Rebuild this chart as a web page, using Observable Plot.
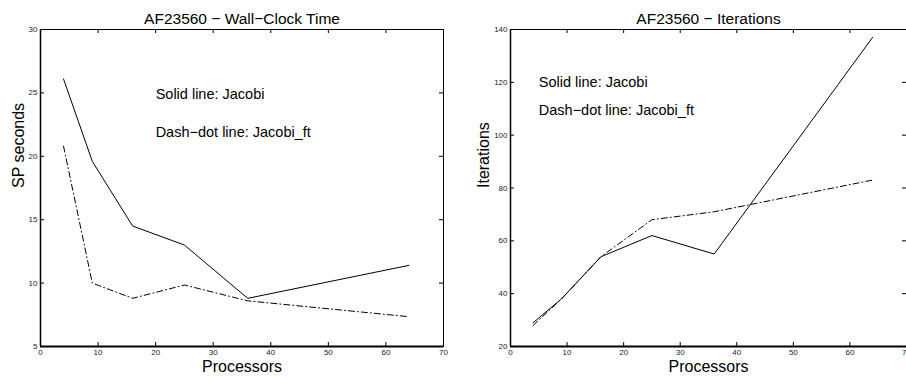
<!DOCTYPE html>
<html>
<head>
<meta charset="utf-8">
<script src="https://cdn.jsdelivr.net/npm/d3@7"></script>
<script src="https://cdn.jsdelivr.net/npm/@observablehq/plot@0.6"></script>
<style>
  body { margin: 0; background: #fff; }
  #wrap { display: flex; width: 906px; height: 379px; overflow: hidden; font-family: "Liberation Sans", Arial, sans-serif; }
  svg { font-family: "Liberation Sans", Arial, sans-serif; overflow: visible; }
</style>
</head>
<body>
<div id="wrap"></div>
<script>
// ---- data ----
const processors = [4, 9, 16, 25, 36, 64];
const timeJacobi = [26.1, 19.6, 14.5, 13.0, 8.8, 11.4];
const timeJacobiFt = [20.8, 10.0, 8.8, 9.85, 8.6, 7.35];
const iterJacobi = [29, 38, 54, 62, 55, 137];
const iterJacobiFt = [28, 38, 54, 68, 71, 83];

const xTicks = [0, 10, 20, 30, 40, 50, 60, 70];
const timeTicks = [5, 10, 15, 20, 25, 30];
const iterTicks = [20, 40, 60, 80, 100, 120, 140];

const legendLabels = ["Solid line: Jacobi", "Dash\u2212dot line: Jacobi_ft"];
const timeLegendX = [20, 20];
const timeLegendY = [24.9, 21.9];
const iterLegendX = [5, 5];
const iterLegendY = [120, 109.5];

const titles = ["AF23560 \u2212 Wall\u2212Clock Time", "AF23560 \u2212 Iterations"];
const yLabels = ["SP seconds", "Iterations"];
const xLabel = "Processors";

function panel({title, yLabel, yDomain, yTicks, solid, dashed, legX, legY, marginLeft, marginRight, ylabelDx}) {
  const W = 453, H = 379, mt = 29, mb = 33;
  const frameH = H - mt - mb;
  const frameW = W - marginLeft - marginRight;
  const solidData = processors.map((p, i) => ({x: p, y: solid[i]}));
  const dashData = processors.map((p, i) => ({x: p, y: dashed[i]}));
  const legend = legendLabels.map((t, i) => ({x: legX[i], y: legY[i], t}));
  return Plot.plot({
    width: W, height: H,
    marginLeft, marginRight, marginTop: mt, marginBottom: mb,
    x: {domain: [0, 70]},
    y: {domain: yDomain},
    style: {fontFamily: "Liberation Sans, Arial, sans-serif", color: "black"},
    marks: [
      Plot.axisX(xTicks, {tickSize: 0, tickPadding: 3, fontSize: 8, fill: "#222", label: null}),
      Plot.axisY(yTicks, {tickSize: 0, tickPadding: 3, fontSize: 8, fill: "#222", label: null}),
      Plot.tickX(xTicks, {x: d => d, insetTop: frameH - 4, stroke: "black"}),
      Plot.tickX(xTicks, {x: d => d, insetBottom: frameH - 4, stroke: "black"}),
      Plot.tickY(yTicks, {y: d => d, insetRight: frameW - 4, stroke: "black"}),
      Plot.tickY(yTicks, {y: d => d, insetLeft: frameW - 4, stroke: "black"}),
      Plot.frame({stroke: "black", strokeWidth: 1}),
      Plot.ruleY([yDomain[0]], {stroke: "black", strokeWidth: 2}),
      Plot.ruleX([0], {stroke: "black", strokeWidth: 1.5}),
      Plot.line(solidData, {x: "x", y: "y", stroke: "black", strokeWidth: 1}),
      Plot.line(dashData, {x: "x", y: "y", stroke: "black", strokeWidth: 1, strokeDasharray: "6,3,1,3"}),
      Plot.text(legend, {x: "x", y: "y", text: "t", textAnchor: "start", fontSize: 14.5, fill: "black"}),
      Plot.text([title], {frameAnchor: "top", dy: -17, fontSize: 15.5, fill: "black"}),
      Plot.text([xLabel], {frameAnchor: "bottom", dy: 25, fontSize: 16, fill: "black"}),
      Plot.text([yLabel], {frameAnchor: "left", dx: ylabelDx, rotate: -90, fontSize: 16, fill: "black"})
    ]
  });
}

const wrap = document.getElementById("wrap");
wrap.append(panel({
  title: titles[0], yLabel: yLabels[0], yDomain: [5, 30], yTicks: timeTicks,
  solid: timeJacobi, dashed: timeJacobiFt, legX: timeLegendX, legY: timeLegendY,
  marginLeft: 40, marginRight: 10, ylabelDx: -22
}));
wrap.append(panel({
  title: titles[1], yLabel: yLabels[1], yDomain: [20, 140], yTicks: iterTicks,
  solid: iterJacobi, dashed: iterJacobiFt, legX: iterLegendX, legY: iterLegendY,
  marginLeft: 57, marginRight: 0, ylabelDx: -27
}));
</script>
</body>
</html>
